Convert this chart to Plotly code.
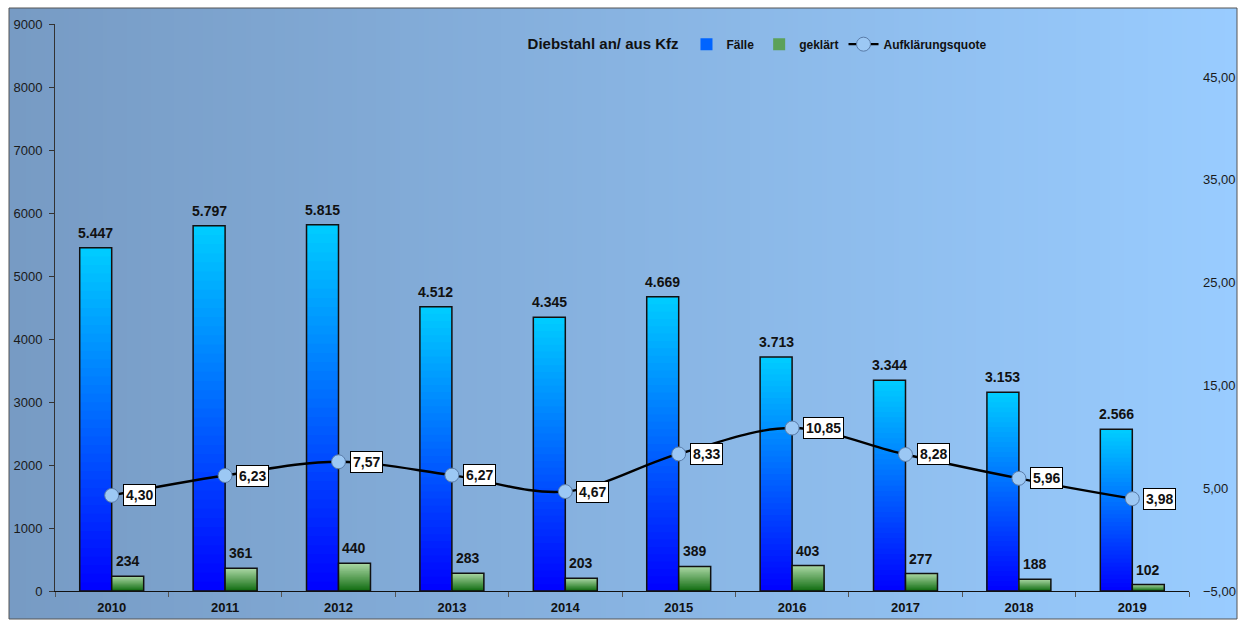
import base64, struct, zlib
import plotly.graph_objects as go

years = ["2010", "2011", "2012", "2013", "2014", "2015", "2016", "2017", "2018", "2019"]
faelle = [5447, 5797, 5815, 4512, 4345, 4669, 3713, 3344, 3153, 2566]
geklaert = [234, 361, 440, 283, 203, 389, 403, 277, 188, 102]
quote = [4.30, 6.23, 7.57, 6.27, 4.67, 8.33, 10.85, 8.28, 5.96, 3.98]
title_text = "Diebstahl an/ aus Kfz"

FONT = "Liberation Sans, Arial, sans-serif"
N_SEG = 40


def lerp(c1, c2, t):
    return tuple(round(a + (b - a) * t) for a, b in zip(c1, c2))


def png_uri(rows):
    h = len(rows)
    w = len(rows[0])
    raw = b"".join(b"\x00" + bytes([v for px in row for v in px]) for row in rows)

    def chunk(tag, data):
        c = struct.pack(">I", len(data)) + tag + data
        return c + struct.pack(">I", zlib.crc32(tag + data) & 0xFFFFFFFF)

    png = b"\x89PNG\r\n\x1a\n" + chunk(b"IHDR", struct.pack(">IIBBBBB", w, h, 8, 2, 0, 0, 0))
    png += chunk(b"IDAT", zlib.compress(raw, 9)) + chunk(b"IEND", b"")
    return "data:image/png;base64," + base64.b64encode(png).decode()


bg_left, bg_right = (119, 155, 196), (153, 204, 255)
bg_row = [lerp(bg_left, bg_right, i / 255) for i in range(256)]
bg_uri = png_uri([bg_row])

fig = go.Figure()

BW = 0.282
series = [
    ("Fälle", faelle, -BW, (0, 0, 255), (0, 206, 255), 1),
    ("geklärt", geklaert, 0.0, (16, 108, 16), (172, 216, 166), 2),
]
for name, vals, off, c_bottom, c_top, rank in series:
    # overlaid bars, tallest first, each shorter one painted over the lower part
    for k in range(N_SEG):
        frac = (N_SEG - k) / N_SEG
        col = "rgb(%d,%d,%d)" % lerp(c_bottom, c_top, frac - 0.5 / N_SEG)
        fig.add_trace(go.Bar(
            x=years, y=[v * frac for v in vals],
            width=BW, offset=off, marker=dict(color=col, line=dict(width=0)),
            name=name, showlegend=(k == N_SEG // 2), legendrank=rank,
            hoverinfo="skip"))
    fig.add_trace(go.Bar(
        x=years, y=vals, width=BW, offset=off,
        marker=dict(color="rgba(0,0,0,0)", line=dict(color="#111111", width=1.5)),
        name=name, showlegend=False))
    for i, v in enumerate(vals):
        fig.add_annotation(
            x=i + off + BW / 2, y=v, xref="x", yref="y", xanchor="center",
            yanchor="bottom", yshift=5, showarrow=False,
            text=f"{v:,}".replace(",", "."),
            font=dict(family=FONT, size=14, color="#111111", weight="bold"))

fig.add_trace(go.Scatter(
    x=years, y=quote, yaxis="y2", mode="lines+markers", name="Aufklärungsquote",
    line=dict(color="black", width=2.4, shape="spline", smoothing=1.0),
    marker=dict(size=14, color="#9cc8f4", line=dict(color="#5a7ca8", width=1)),
    showlegend=True, legendrank=3))

for i, q in enumerate(quote):
    fig.add_annotation(
        x=i, y=q, xref="x", yref="y2", xanchor="left", yanchor="middle", xshift=11,
        text=f"{q:.2f}".replace(".", ","), showarrow=False,
        font=dict(family=FONT, size=14, color="#111111", weight="bold"),
        bgcolor="white", bordercolor="black", borderwidth=1, borderpad=2)

FW, FH = 1241, 620
L, R, T, B = 55, 52, 24, 29
W, H = FW - L - R, FH - T - B
bx0, bx1 = (9 - L) / W, (1237 - L) / W
by1, by0 = (FH - B - 8) / H, (FH - B - 619) / H

fig.add_layout_image(dict(source=bg_uri, xref="paper", yref="paper", x=bx0, y=by1,
                          sizex=bx1 - bx0, sizey=by1 - by0, sizing="stretch",
                          xanchor="left", yanchor="top", layer="below"))
fig.add_shape(type="rect", xref="paper", yref="paper", x0=bx0, x1=bx1, y0=by0, y1=by1,
              line=dict(color="#555555", width=1), layer="below")

fig.update_layout(
    width=FW, height=FH,
    margin=dict(l=L, r=R, t=T, b=B),
    paper_bgcolor="white", plot_bgcolor="rgba(0,0,0,0)",
    separators=",.",
    barmode="overlay",
    font=dict(family=FONT, size=12, color="#1a1a1a"),
    showlegend=True,
    legend=dict(
        orientation="h", x=0.415, y=0.99, xanchor="left", yanchor="top",
        bgcolor="rgba(0,0,0,0)",
        title=dict(text=title_text, side="left",
                   font=dict(family=FONT, size=15, color="#111", weight="bold")),
        font=dict(family=FONT, size=12, color="#111", weight="bold"),
        itemwidth=30, tracegroupgap=0,
    ),
    xaxis=dict(
        type="category", categoryorder="array", categoryarray=years,
        range=[-0.5, len(years) - 0.5], automargin=False,
        showline=True, linecolor="#111", linewidth=1,
        ticks="outside", tickson="boundaries", ticklen=5, tickcolor="#555",
        ticklabelstandoff=4,
        tickfont=dict(family=FONT, size=13, color="#111", weight="bold"),
        showgrid=False, zeroline=False,
    ),
    yaxis=dict(
        range=[0, 9000], dtick=1000, showline=True, linecolor="#333", linewidth=1,
        ticks="outside", ticklen=5, tickcolor="#333", showgrid=False, zeroline=False,
        ticklabelstandoff=4, automargin=False,
        tickfont=dict(family=FONT, size=13, color="#1a1a1a"),
    ),
    yaxis2=dict(
        overlaying="y", side="right", range=[-5, 50.15],
        tickvals=[-5, 5, 15, 25, 35, 45], tickformat=".2f",
        showline=False, showgrid=False, zeroline=False, ticks="",
        ticklabelstandoff=13, automargin=False,
        tickfont=dict(family=FONT, size=13, color="#1a1a1a"),
    ),
)

fig.write_html(
    "out.html",
    config={"displayModeBar": False},
    post_script="document.body.style.margin='0';document.body.style.overflow='hidden';",
)
